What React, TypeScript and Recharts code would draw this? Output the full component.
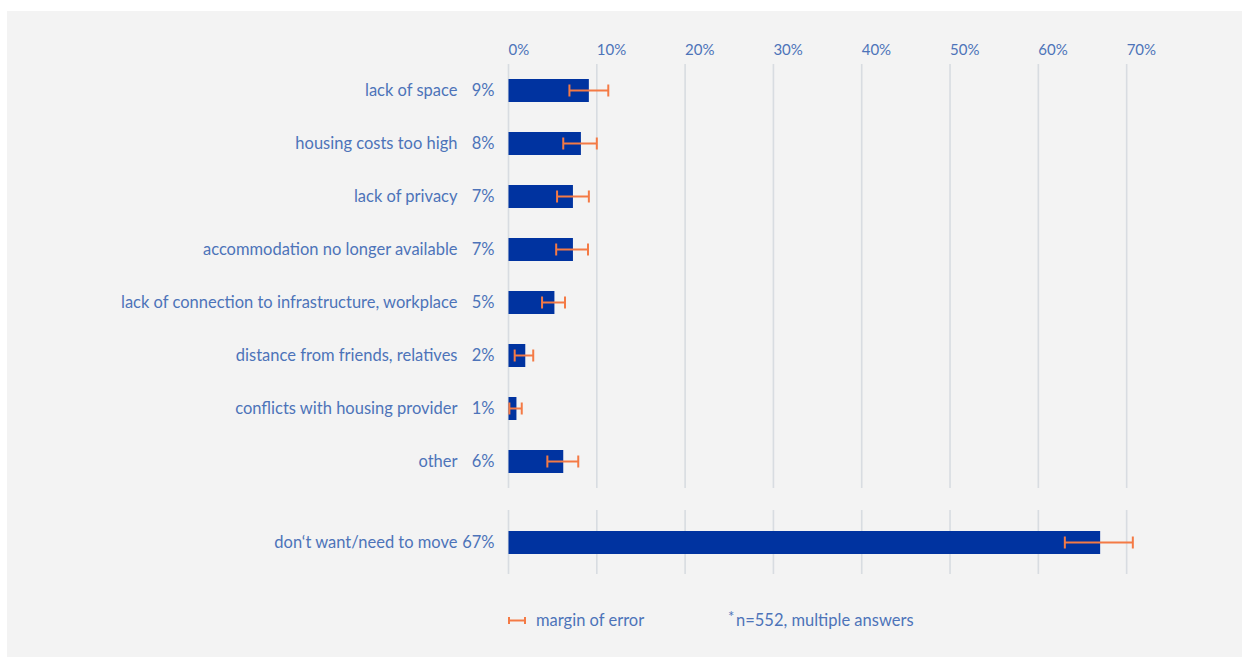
import React from 'react';
import { BarChart, Bar, XAxis, YAxis, CartesianGrid, ErrorBar } from 'recharts';

const categories = [
  'lack of space',
  'housing costs too high',
  'lack of privacy',
  'accommodation no longer available',
  'lack of connection to infrastructure, workplace',
  'distance from friends, relatives',
  'conflicts with housing provider',
  'other',
];
const values = [9.1, 8.2, 7.3, 7.3, 5.2, 1.9, 0.9, 6.2];
const errLow = [6.9, 6.2, 5.5, 5.4, 3.8, 0.7, 0.1, 4.4];
const errHigh = [11.3, 10.0, 9.1, 9.0, 6.4, 2.8, 1.5, 7.9];

const mainCategories = ['don‘t want/need to move'];
const mainValues = [67.0];
const mainErrLow = [63.0];
const mainErrHigh = [70.7];

const xTicks = [0, 10, 20, 30, 40, 50, 60, 70];
const xDomain: [number, number] = [0, 75];

const build = (cats: string[], vals: number[], lo: number[], hi: number[]) =>
  cats.map((c, i) => ({
    name: c,
    value: vals[i],
    err: [vals[i] - lo[i], hi[i] - vals[i]],
  }));

const topData = build(categories, values, errLow, errHigh);
const bottomData = build(mainCategories, mainValues, mainErrLow, mainErrHigh);

const TEXT = '#4d73b9';
const BAR = '#0033a0';
const ERR = '#f47a45';
const GRID = '#d8dce1';
const FONT = 'Lato, "Open Sans", sans-serif';
const FS = 16.5;

const gridX = (props: any) => {
  const xAxis = props?.xAxis;
  if (xAxis && typeof xAxis.scale === 'function') {
    return xTicks.map((t) => xAxis.scale(t));
  }
  const off = props.offset;
  return xTicks.map((t) => off.left + ((t - xDomain[0]) / (xDomain[1] - xDomain[0])) * off.width);
};

const YTick = (props: any) => {
  const { x, y, payload, data } = props;
  const item = data.find((d: any) => d.name === payload.value);
  return (
    <g>
      <text x={x - 51} y={y} dy="0.35em" textAnchor="end" fill={TEXT} fontSize={FS} fontFamily={FONT}>
        {payload.value}
      </text>
      <text x={x - 14} y={y} dy="0.35em" textAnchor="end" fill={TEXT} fontSize={FS} fontFamily={FONT}>
        {item ? `${Math.round(item.value)}%` : ''}
      </text>
    </g>
  );
};

const XTick = (props: any) => {
  const { x, y, payload } = props;
  return (
    <text x={x} y={y} dy={-7} textAnchor="start" fill={TEXT} fontSize={15} fontFamily={FONT}>
      {`${payload.value}%`}
    </text>
  );
};

const W = 1242;
const LEFT = 508.5;
const RIGHT_MARGIN = W - 1170.8;

export default function App() {
  return (
    <div style={{ position: 'absolute', left: 0, top: 0, width: W, height: 657, background: '#ffffff' }}>
      <div style={{ position: 'absolute', left: 7, top: 11, width: W - 7, height: 657 - 11, background: '#f3f3f3' }} />
      <div style={{ position: 'absolute', left: 0, top: 0 }}>
        <BarChart
          width={W}
          height={500}
          data={topData}
          layout="vertical"
          margin={{ top: 34, right: RIGHT_MARGIN, bottom: 12, left: 0 }}
          barCategoryGap={15}
        >
          <CartesianGrid horizontal={false} stroke={GRID} strokeWidth={1.6} verticalCoordinatesGenerator={gridX} />
          <XAxis
            type="number"
            orientation="top"
            domain={xDomain}
            ticks={xTicks}
            height={30}
            axisLine={false}
            tickLine={false}
            tickSize={0}
            tick={<XTick />}
            interval={0}
          />
          <YAxis
            type="category"
            dataKey="name"
            width={LEFT}
            axisLine={false}
            tickLine={false}
            tickSize={0}
            tickMargin={0}
            interval={0}
            tick={<YTick data={topData} />}
          />
          <Bar dataKey="value" fill={BAR} barSize={23} isAnimationActive={false}>
            <ErrorBar dataKey="err" direction="x" width={6} stroke={ERR} strokeWidth={2} />
          </Bar>
        </BarChart>
      </div>
      <div style={{ position: 'absolute', left: 0, top: 510 }}>
        <BarChart
          width={W}
          height={64}
          data={bottomData}
          layout="vertical"
          margin={{ top: 0, right: RIGHT_MARGIN, bottom: 0, left: 0 }}
        >
          <CartesianGrid horizontal={false} stroke={GRID} strokeWidth={1.6} verticalCoordinatesGenerator={gridX} />
          <XAxis type="number" domain={xDomain} ticks={xTicks} hide />
          <YAxis
            type="category"
            dataKey="name"
            width={LEFT}
            axisLine={false}
            tickLine={false}
            tickSize={0}
            tickMargin={0}
            interval={0}
            tick={<YTick data={bottomData} />}
          />
          <Bar dataKey="value" fill={BAR} barSize={23} isAnimationActive={false}>
            <ErrorBar dataKey="err" direction="x" width={6} stroke={ERR} strokeWidth={2} />
          </Bar>
        </BarChart>
      </div>
      <div style={{ position: 'absolute', left: 0, top: 600 }}>
        <svg width={W} height={40}>
          <g stroke={ERR} strokeWidth={2}>
            <line x1={509} y1={20.5} x2={525} y2={20.5} />
            <line x1={509} y1={17} x2={509} y2={24} />
            <line x1={525} y1={17} x2={525} y2={24} />
          </g>
          <text x={536} y={20.5} dy="0.35em" fill={TEXT} fontSize={FS} fontFamily={FONT}>
            margin of error
          </text>
          <text x={728} y={22} fill={TEXT} fontSize={15} fontFamily={FONT}>
            *
          </text>
          <text x={736} y={20.5} dy="0.35em" fill={TEXT} fontSize={FS} fontFamily={FONT}>
            n=552, multiple answers
          </text>
        </svg>
      </div>
    </div>
  );
}
